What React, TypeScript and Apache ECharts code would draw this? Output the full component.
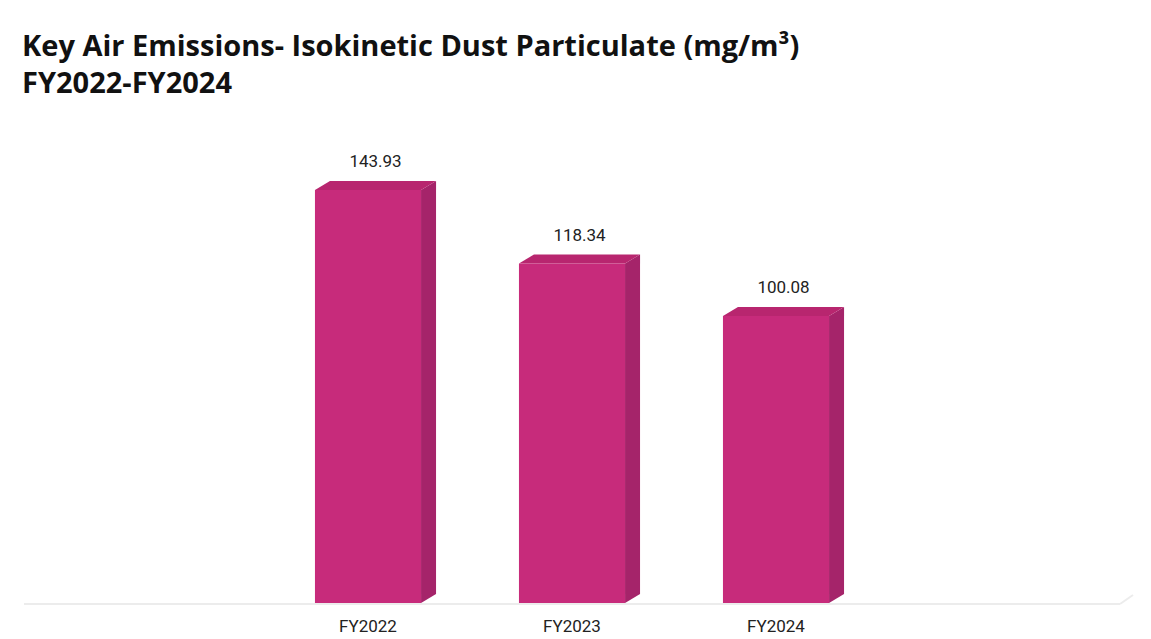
import React, { useEffect, useRef } from "react";
import * as echarts from "echarts";

const categories = ["FY2022", "FY2023", "FY2024"];
const values = [143.93, 118.34, 100.08];
const titleLines = ["Key Air Emissions- Isokinetic Dust Particulate (mg/m³)", "FY2022-FY2024"];

export default function App() {
  const ref = useRef<HTMLDivElement>(null);
  useEffect(() => {
    if (!ref.current) return;
    const chart = echarts.init(ref.current, null, { renderer: "svg" });
    const dx = 15;
    const dy = 9;
    chart.setOption({
      animation: false,
      backgroundColor: "#ffffff",
      title: {
        text: titleLines.join("\n"),
        left: 17,
        top: 21,
        textStyle: {
          fontFamily: "Open Sans",
          fontWeight: "bold",
          fontSize: 29,
          lineHeight: 37,
          color: "#111111",
        },
      },
      grid: { left: 266, right: 273, top: 144, bottom: 36 },
      xAxis: {
        type: "category",
        data: categories,
        axisLine: { show: false },
        axisTick: { show: false },
        axisLabel: { fontFamily: "Roboto", fontSize: 17, color: "#222222", margin: 14 },
      },
      yAxis: { type: "value", min: 0, max: 160, show: false, splitLine: { show: false } },
      graphic: [
        {
          type: "line",
          shape: { x1: 24, y1: 604, x2: 1120, y2: 604 },
          style: { stroke: "#ececec", lineWidth: 2 },
          z: 0,
        },
        {
          type: "line",
          shape: { x1: 1120, y1: 604, x2: 1133, y2: 595 },
          style: { stroke: "#ececec", lineWidth: 2 },
          z: 0,
        },
      ],
      series: [
        {
          type: "custom",
          data: values.map((v, i) => [i, v]),
          renderItem: (params: any, api: any) => {
            const idx = api.value(0);
            const v = api.value(1);
            const base = api.coord([idx, 0]);
            const top = api.coord([idx, v]);
            const bw = api.size([1, 0])[0] * 0.52;
            const x0 = base[0] - bw / 2;
            const x1 = base[0] + bw / 2;
            const yb = base[1];
            const yt = top[1];
            return {
              type: "group",
              children: [
                {
                  type: "polygon",
                  shape: { points: [[x1, yt], [x1 + dx, yt - dy], [x1 + dx, yb - dy], [x1, yb]] },
                  style: { fill: "#a5246a" },
                },
                {
                  type: "polygon",
                  shape: { points: [[x0, yt], [x0 + dx, yt - dy], [x1 + dx, yt - dy], [x1, yt]] },
                  style: { fill: "#b8266f" },
                },
                {
                  type: "rect",
                  shape: { x: x0, y: yt, width: x1 - x0, height: yb - yt },
                  style: { fill: "#c72b7b" },
                },
                {
                  type: "text",
                  x: (x0 + x1 + dx) / 2,
                  y: yt - dy - 20,
                  style: {
                    text: v.toFixed(2),
                    fontFamily: "Roboto",
                    fontSize: 17,
                    fill: "#222222",
                    align: "center",
                    verticalAlign: "middle",
                  },
                },
              ],
            };
          },
        },
      ],
    });
    return () => chart.dispose();
  }, []);
  return (
    <div
      ref={ref}
      style={{ position: "fixed", left: 0, top: 0, width: 1151, height: 639 }}
    />
  );
}
